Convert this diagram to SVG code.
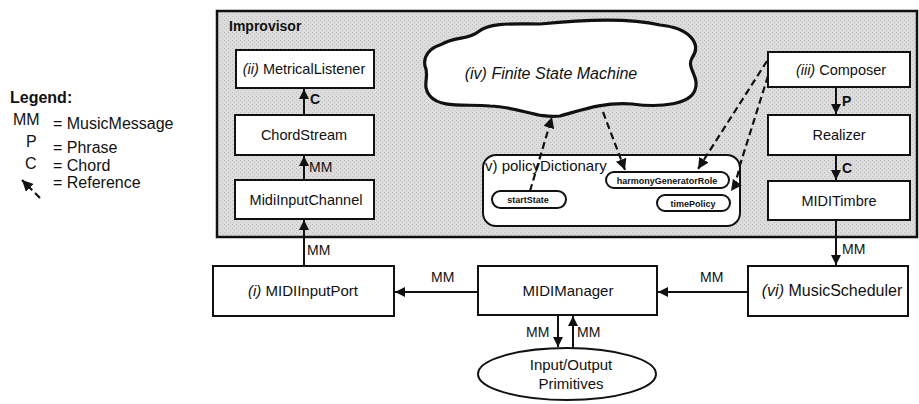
<svg xmlns="http://www.w3.org/2000/svg" width="919" height="404" viewBox="0 0 919 404">
  <style>
    text { font-family: "Liberation Sans", Arial, sans-serif; fill: #111; }
    .box { fill: #fff; stroke: #111; stroke-width: 2; }
    .lbl { font-size: 14.5px; text-anchor: middle; }
    .lbl2 { font-size: 15px; text-anchor: middle; }
    .flow { font-size: 14px; }
    .leg { font-size: 16px; }
    .it { font-style: italic; }
    .wire { stroke: #111; stroke-width: 2; fill: none; }
    .ref { stroke: #111; stroke-width: 2.2; fill: none; stroke-dasharray: 7 4; }
    .pill { fill: #fff; stroke: #111; stroke-width: 2; }
    .small { font-size: 9px; font-weight: bold; text-anchor: middle; }
  </style>
  <defs>
    <marker id="head" viewBox="0 0 10 10" refX="10" refY="5" markerWidth="5" markerHeight="5" orient="auto" markerUnits="strokeWidth">
      <path d="M0,0 L10,5 L0,10 Z" fill="#111"/>
    </marker>
    <pattern id="grain" width="4" height="4" patternUnits="userSpaceOnUse">
      <rect width="4" height="4" fill="#dcdcdc"/>
      <rect x="0" y="0" width="1" height="1" fill="#bdbdbd"/>
      <rect x="2" y="2" width="1" height="1" fill="#c4c4c4"/>
    </pattern>
  </defs>

  <!-- Legend -->
  <g id="legend">
    <text x="10" y="103" class="leg" font-weight="bold">Legend:</text>
    <text x="13" y="125" class="leg">MM</text>
    <text x="53" y="129" class="leg">= MusicMessage</text>
    <text x="26" y="147" class="leg">P</text>
    <text x="53" y="153" class="leg">= Phrase</text>
    <text x="25" y="169" class="leg">C</text>
    <text x="53" y="171" class="leg">= Chord</text>
    <line x1="40" y1="198" x2="22" y2="180" class="ref" stroke-width="2.5" stroke-dasharray="6 4" marker-end="url(#head)"/>
    <text x="53" y="188" class="leg">= Reference</text>
  </g>

  <!-- Improvisor container -->
  <g id="improvisor">
    <rect x="217" y="11" width="700" height="226" fill="url(#grain)" stroke="#111" stroke-width="2.5"/>
    <text x="229" y="31" style="font-size:14px;font-weight:bold">Improvisor</text>
  </g>

  <g id="metricalListener">
    <rect class="box" x="236" y="50" width="138" height="38"/>
    <text class="lbl" x="304" y="74"><tspan class="it">(ii)</tspan> MetricalListener</text>
  </g>
  <g id="chordStream">
    <rect class="box" x="235" y="115" width="139" height="40"/>
    <text class="lbl" x="304" y="140">ChordStream</text>
  </g>
  <g id="midiInputChannel">
    <rect class="box" x="235" y="180" width="139" height="39"/>
    <text class="lbl" x="306" y="205">MidiInputChannel</text>
  </g>

  <g id="fsm">
    <path d="M440,45 C455,36 468,40 478,32 C490,22 515,24 540,24 C580,20 630,18 660,25 C690,28 702,44 692,58 C686,68 700,76 695,90 C690,104 662,108 632,104 C602,102 582,110 560,116 C538,119 520,107 490,106 C464,104 440,108 430,96 C421,86 430,76 425,66 C423,56 430,48 440,45 Z" fill="#fff" stroke="#111" stroke-width="3.2"/>
    <text class="it" x="551" y="79" text-anchor="middle" style="font-size:16px">(iv) Finite State Machine</text>
  </g>

  <g id="policyDictionary">
    <rect x="483" y="155" width="257" height="71" rx="13" fill="#fff" stroke="#111" stroke-width="2"/>
    <text x="485" y="171" style="font-size:15px">v) policyDictionary</text>
  </g>
  <g id="harmonyGeneratorRole">
    <rect class="pill" x="606" y="172" width="123" height="16" rx="8"/>
    <text class="small" x="667" y="183.5">harmonyGeneratorRole</text>
  </g>
  <g id="startState">
    <rect class="pill" x="492" y="191" width="74" height="17" rx="8.5"/>
    <text class="small" x="528" y="203">startState</text>
  </g>
  <g id="timePolicy">
    <rect class="pill" x="657" y="195" width="73" height="16" rx="8"/>
    <text class="small" x="693" y="206.5">timePolicy</text>
  </g>

  <g id="composer">
    <rect class="box" x="768" y="52" width="142" height="35"/>
    <text class="lbl" x="841" y="75"><tspan class="it">(iii)</tspan> Composer</text>
  </g>
  <g id="realizer">
    <rect class="box" x="768" y="115" width="142" height="40"/>
    <text class="lbl" x="839" y="140">Realizer</text>
  </g>
  <g id="midiTimbre">
    <rect class="box" x="768" y="181" width="142" height="39"/>
    <text class="lbl" x="839" y="206">MIDITimbre</text>
  </g>

  <g id="midiInputPort">
    <rect class="box" x="213" y="266" width="181" height="50"/>
    <text class="lbl2" x="303" y="296"><tspan class="it">(i)</tspan> MIDIInputPort</text>
  </g>
  <g id="midiManager">
    <rect class="box" x="478" y="266" width="179" height="49"/>
    <text class="lbl2" x="568" y="296">MIDIManager</text>
  </g>
  <g id="musicScheduler">
    <rect class="box" x="748" y="266" width="160" height="50"/>
    <text x="832" y="296" text-anchor="middle" style="font-size:16px"><tspan class="it">(vi)</tspan> MusicScheduler</text>
  </g>
  <g id="ioPrimitives">
    <ellipse cx="567" cy="374" rx="89" ry="26" fill="#fff" stroke="#111" stroke-width="2"/>
    <text class="lbl2" x="571" y="370">Input/Output</text>
    <text class="lbl2" x="571" y="389">Primitives</text>
  </g>

  <!-- Connectors -->
  <g id="connectors">
    <!-- message flows -->
    <line class="wire" x1="304" y1="115" x2="304" y2="89" marker-end="url(#head)"/>
    <text class="flow" x="310" y="104" font-weight="bold">C</text>
    <line class="wire" x1="304" y1="180" x2="304" y2="156" marker-end="url(#head)"/>
    <text class="flow" x="309" y="172">MM</text>
    <line class="wire" x1="304" y1="266" x2="304" y2="220" marker-end="url(#head)"/>
    <text class="flow" x="307" y="255">MM</text>

    <line class="wire" x1="478" y1="292" x2="395" y2="292" marker-end="url(#head)"/>
    <text class="flow" x="431" y="282">MM</text>
    <line class="wire" x1="748" y1="292" x2="658" y2="292" marker-end="url(#head)"/>
    <text class="flow" x="700" y="282">MM</text>

    <line class="wire" x1="836" y1="87" x2="836" y2="114" marker-end="url(#head)"/>
    <text class="flow" x="842" y="106" font-weight="bold">P</text>
    <line class="wire" x1="836" y1="155" x2="836" y2="180" marker-end="url(#head)"/>
    <text class="flow" x="842" y="173" font-weight="bold">C</text>
    <line class="wire" x1="836" y1="220" x2="836" y2="265" marker-end="url(#head)"/>
    <text class="flow" x="842" y="254">MM</text>

    <line class="wire" x1="558" y1="315" x2="558" y2="347" marker-end="url(#head)"/>
    <text class="flow" x="526" y="337">MM</text>
    <line class="wire" x1="573" y1="348" x2="573" y2="316" marker-end="url(#head)"/>
    <text class="flow" x="577" y="337">MM</text>

    <!-- references -->
    <line class="ref" x1="530" y1="191" x2="552" y2="117" marker-end="url(#head)"/>
    <line class="ref" x1="603" y1="112" x2="625" y2="170" marker-end="url(#head)"/>
    <line class="ref" x1="767" y1="61" x2="698" y2="169" marker-end="url(#head)"/>
    <path class="ref" d="M768,76 L740,165 Q736,184 731,191" marker-end="url(#head)"/>
  </g>
</svg>
